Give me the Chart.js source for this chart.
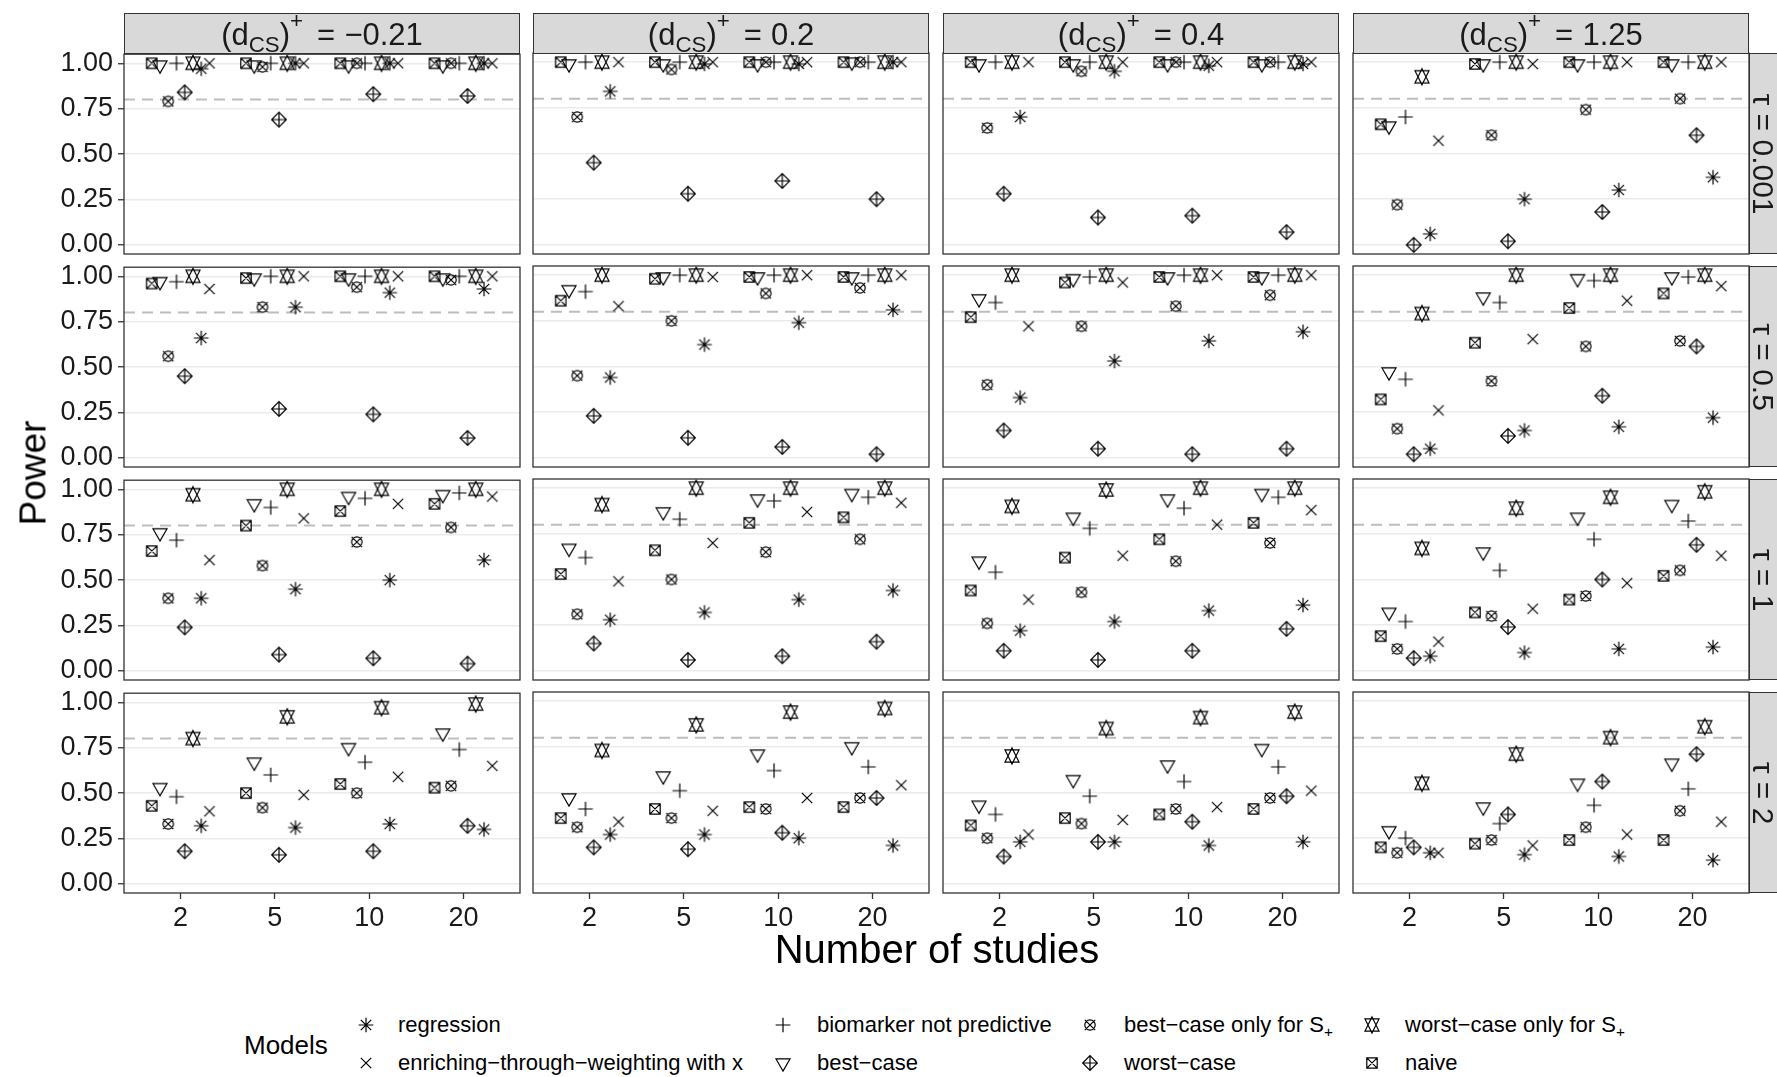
<!DOCTYPE html>
<html>
<head>
<meta charset="utf-8">
<script src="https://cdn.jsdelivr.net/npm/chart.js@4.4.1/dist/chart.umd.min.js"></script>
<style>
  html, body { margin: 0; padding: 0; background: #fff; }
  body { width: 1777px; height: 1077px; position: relative; overflow: hidden;
         font-family: "Liberation Sans", Arial, Helvetica, sans-serif; color: #1a1a1a; }
  .box { position: absolute; }
  .strip { position: absolute; background: #d9d9d9; border: 1.3px solid #333; box-sizing: border-box; }
  .stext { position: absolute; left: 50%; top: 50%; transform: translate(-50%, -50%);
           font-size: 31px; color: #1a1a1a; white-space: nowrap; line-height: 1; }
  .stext sub { font-size: 72%; vertical-align: -0.32em; line-height: 0; }
  .stext sup { font-size: 72%; vertical-align: 0.72em; line-height: 0; }
  .stext .eq { margin: 0 0.3em 0 0.45em; }
  .rtext { position: absolute; font-size: 30px; color: #1a1a1a; white-space: nowrap; line-height: 1; }
  .title { position: absolute; color: #000; white-space: nowrap; line-height: 1; }
  .legtitle { position: absolute; font-size: 26px; color: #000; white-space: nowrap; }
  .leglabel { position: absolute; font-size: 22px; color: #000; white-space: nowrap; line-height: 26px; }
  .leglabel sub { font-size: 70%; vertical-align: -0.3em; line-height: 0; }
  .legsym { position: absolute; }
</style>
</head>
<body>
<script>
// ---- facet levels and axis labels ----
const studies = ['2', '5', '10', '20'];
const dcsLabels = ['\u22120.21', '0.2', '0.4', '1.25'];
const tauLabels = ['0.001', '0.5', '1', '2'];
const yTicks = [0, 0.25, 0.5, 0.75, 1];
const targetPower = 0.8;

// ---- power per model: [τ row][d_CS column][number of studies] ----
const naive = [
  [[1.00, 1.00, 1.00, 1.00], [1.00, 1.00, 1.00, 1.00], [1.00, 1.00, 1.00, 1.00], [0.66, 0.99, 1.00, 1.00]],
  [[0.96, 0.99, 1.00, 1.00], [0.86, 0.98, 0.99, 0.99], [0.77, 0.96, 0.99, 0.99], [0.32, 0.63, 0.82, 0.90]],
  [[0.66, 0.80, 0.88, 0.92], [0.53, 0.66, 0.81, 0.84], [0.44, 0.62, 0.72, 0.81], [0.19, 0.32, 0.39, 0.52]],
  [[0.43, 0.50, 0.55, 0.53], [0.36, 0.41, 0.42, 0.42], [0.32, 0.36, 0.38, 0.41], [0.20, 0.22, 0.24, 0.24]]
];
const bestCase = [
  [[0.99, 0.99, 0.99, 0.99], [0.99, 0.99, 0.99, 1.00], [0.99, 0.99, 0.99, 0.99], [0.65, 0.99, 0.99, 0.99]],
  [[0.97, 0.99, 0.99, 0.99], [0.92, 0.99, 0.99, 0.99], [0.87, 0.98, 0.99, 0.99], [0.47, 0.88, 0.98, 0.99]],
  [[0.76, 0.92, 0.96, 0.97], [0.67, 0.87, 0.94, 0.97], [0.60, 0.84, 0.94, 0.97], [0.32, 0.65, 0.84, 0.91]],
  [[0.53, 0.67, 0.75, 0.83], [0.47, 0.59, 0.71, 0.75], [0.43, 0.57, 0.65, 0.74], [0.29, 0.42, 0.55, 0.66]]
];
const bestCaseOnlySplus = [
  [[0.79, 0.98, 1.00, 1.00], [0.70, 0.96, 1.00, 1.00], [0.64, 0.95, 1.00, 1.00], [0.22, 0.60, 0.74, 0.80]],
  [[0.56, 0.83, 0.94, 0.98], [0.45, 0.75, 0.90, 0.93], [0.40, 0.72, 0.83, 0.89], [0.16, 0.42, 0.61, 0.64]],
  [[0.40, 0.58, 0.71, 0.79], [0.31, 0.50, 0.65, 0.72], [0.26, 0.43, 0.60, 0.70], [0.12, 0.30, 0.41, 0.55]],
  [[0.33, 0.42, 0.50, 0.54], [0.31, 0.36, 0.41, 0.47], [0.25, 0.33, 0.41, 0.47], [0.17, 0.24, 0.31, 0.40]]
];
const notPredictive = [
  [[1.00, 1.00, 1.00, 1.00], [1.00, 1.00, 1.00, 1.00], [1.00, 1.00, 1.00, 1.00], [0.70, 1.00, 1.00, 1.00]],
  [[0.97, 1.00, 1.00, 1.00], [0.91, 1.00, 1.00, 1.00], [0.85, 0.99, 1.00, 1.00], [0.43, 0.85, 0.97, 0.99]],
  [[0.72, 0.90, 0.95, 0.98], [0.62, 0.83, 0.93, 0.95], [0.54, 0.78, 0.89, 0.95], [0.27, 0.55, 0.72, 0.82]],
  [[0.48, 0.60, 0.67, 0.74], [0.41, 0.51, 0.62, 0.64], [0.38, 0.48, 0.56, 0.64], [0.25, 0.33, 0.43, 0.52]]
];
const worstCase = [
  [[0.84, 0.69, 0.83, 0.82], [0.45, 0.28, 0.35, 0.25], [0.28, 0.15, 0.16, 0.07], [0.00, 0.02, 0.18, 0.60]],
  [[0.45, 0.27, 0.24, 0.11], [0.23, 0.11, 0.06, 0.02], [0.15, 0.05, 0.02, 0.05], [0.02, 0.12, 0.34, 0.61]],
  [[0.24, 0.09, 0.07, 0.04], [0.15, 0.06, 0.08, 0.16], [0.11, 0.06, 0.11, 0.23], [0.07, 0.24, 0.50, 0.69]],
  [[0.18, 0.16, 0.18, 0.32], [0.20, 0.19, 0.28, 0.47], [0.15, 0.23, 0.34, 0.48], [0.20, 0.38, 0.56, 0.71]]
];
const worstCaseOnlySplus = [
  [[1.00, 1.00, 1.00, 1.00], [1.00, 1.00, 1.00, 1.00], [1.00, 1.00, 1.00, 1.00], [0.92, 1.00, 1.00, 1.00]],
  [[1.00, 1.00, 1.00, 1.00], [1.00, 1.00, 1.00, 1.00], [1.00, 1.00, 1.00, 1.00], [0.79, 1.00, 1.00, 1.00]],
  [[0.97, 1.00, 1.00, 1.00], [0.91, 1.00, 1.00, 1.00], [0.90, 0.99, 1.00, 1.00], [0.67, 0.89, 0.95, 0.98]],
  [[0.80, 0.92, 0.97, 0.99], [0.73, 0.87, 0.94, 0.96], [0.70, 0.85, 0.91, 0.94], [0.55, 0.71, 0.80, 0.86]]
];
const regression = [
  [[0.97, 1.00, 1.00, 1.00], [0.84, 0.99, 0.99, 1.00], [0.70, 0.95, 0.98, 0.99], [0.06, 0.25, 0.30, 0.37]],
  [[0.66, 0.83, 0.91, 0.93], [0.44, 0.62, 0.74, 0.81], [0.33, 0.53, 0.64, 0.69], [0.05, 0.15, 0.17, 0.22]],
  [[0.40, 0.45, 0.50, 0.61], [0.28, 0.32, 0.39, 0.44], [0.22, 0.27, 0.33, 0.36], [0.08, 0.10, 0.12, 0.13]],
  [[0.32, 0.31, 0.33, 0.30], [0.27, 0.27, 0.25, 0.21], [0.23, 0.23, 0.21, 0.23], [0.17, 0.16, 0.15, 0.13]]
];
const enrichingWeighting = [
  [[1.00, 1.00, 1.00, 1.00], [1.00, 1.00, 1.00, 1.00], [1.00, 1.00, 1.00, 1.00], [0.57, 0.99, 1.00, 1.00]],
  [[0.93, 1.00, 1.00, 1.00], [0.83, 0.99, 1.00, 1.00], [0.72, 0.96, 1.00, 1.00], [0.26, 0.65, 0.86, 0.94]],
  [[0.61, 0.84, 0.92, 0.96], [0.49, 0.70, 0.87, 0.92], [0.39, 0.63, 0.80, 0.88], [0.16, 0.34, 0.48, 0.63]],
  [[0.40, 0.49, 0.59, 0.65], [0.34, 0.40, 0.47, 0.54], [0.27, 0.35, 0.42, 0.51], [0.17, 0.21, 0.27, 0.34]]
];

// models in dodge order (left to right inside each group of studies)
const models = [
  { key: 'naive',      shape: 'squareCross',     data: naive },
  { key: 'best',       shape: 'triangleDown',    data: bestCase },
  { key: 'bestOnly',   shape: 'circleCross',     data: bestCaseOnlySplus },
  { key: 'notPred',    shape: 'plus',            data: notPredictive },
  { key: 'worst',      shape: 'diamondPlus',     data: worstCase },
  { key: 'worstOnly',  shape: 'trianglesUpDown', data: worstCaseOnlySplus },
  { key: 'regression', shape: 'asterisk',        data: regression },
  { key: 'enriching',  shape: 'cross',           data: enrichingWeighting }
];

// legend entries, column by column
const legendItems = [
  { key: 'regression', html: 'regression' },
  { key: 'enriching',  html: 'enriching\u2212through\u2212weighting with x' },
  { key: 'notPred',    html: 'biomarker not predictive' },
  { key: 'best',       html: 'best\u2212case' },
  { key: 'bestOnly',   html: 'best\u2212case only for S<sub>+</sub>' },
  { key: 'worst',      html: 'worst\u2212case' },
  { key: 'worstOnly',  html: 'worst\u2212case only for S<sub>+</sub>' },
  { key: 'naive',      html: 'naive' }
];

// ---- layout ----
const PANEL_W = 396, PANEL_H = 201;
const colLeft = [124, 533, 943, 1353];
const rowTop = [53, 266, 479, 692];
const PAD_L = 110, PAD_T = 20, PAD_R = 10, PAD_B = 60;
const AX_W = 80, AX_H = 44;
const DODGE = 0.7;
const FONT = '"Liberation Sans", Arial, Helvetica, sans-serif';

// ---- plotting symbols (R pch 3,4,6,7,8,9,11,13) ----
const SYM_R = 5.2, SYM_LW = 1.2;
const TRC0 = Math.sqrt(4 * Math.PI / (3 * Math.sqrt(3)));
const TRC1 = TRC0 * Math.sqrt(3) / 2;
const TRC2 = TRC0 / 2;

function drawSymbol(ctx, kind, cx, cy) {
  const R = SYM_R, s2 = Math.SQRT2 * R;
  ctx.save();
  ctx.translate(cx, cy);
  ctx.strokeStyle = '#000';
  ctx.lineWidth = SYM_LW;
  ctx.lineJoin = 'miter';
  ctx.beginPath();
  const seg = (x1, y1, x2, y2) => { ctx.moveTo(x1, y1); ctx.lineTo(x2, y2); };
  switch (kind) {
    case 'asterisk':
      seg(-R, -R, R, R); seg(-R, R, R, -R); seg(-s2, 0, s2, 0); seg(0, -s2, 0, s2); break;
    case 'cross':
      seg(-R, -R, R, R); seg(-R, R, R, -R); break;
    case 'plus':
      seg(-s2, 0, s2, 0); seg(0, -s2, 0, s2); break;
    case 'triangleDown': {
      const a = TRC0 * R, b = TRC2 * R, w = TRC1 * R;
      ctx.moveTo(0, a); ctx.lineTo(w, -b); ctx.lineTo(-w, -b); ctx.closePath(); break;
    }
    case 'diamondPlus':
      ctx.moveTo(0, -s2); ctx.lineTo(s2, 0); ctx.lineTo(0, s2); ctx.lineTo(-s2, 0); ctx.closePath();
      seg(-s2, 0, s2, 0); seg(0, -s2, 0, s2); break;
    case 'trianglesUpDown': {
      const a = TRC0 * R, b = 0.5 * (TRC2 + TRC0) * R, w = TRC1 * R;
      ctx.moveTo(0, a); ctx.lineTo(w, -b); ctx.lineTo(-w, -b); ctx.closePath();
      ctx.moveTo(0, -a); ctx.lineTo(w, b); ctx.lineTo(-w, b); ctx.closePath(); break;
    }
    case 'circleCross':
      ctx.moveTo(R, 0); ctx.arc(0, 0, R, 0, Math.PI * 2);
      seg(-R, -R, R, R); seg(-R, R, R, -R); break;
    case 'squareCross':
      ctx.rect(-R, -R, 2 * R, 2 * R);
      seg(-R, -R, R, R); seg(-R, R, R, -R); break;
  }
  ctx.stroke();
  ctx.restore();
}

function symbolCanvas(kind) {
  const c = document.createElement('canvas');
  c.width = 24; c.height = 24;
  drawSymbol(c.getContext('2d'), kind, 12, 12);
  return c;
}
const symbols = {};
models.forEach(m => { symbols[m.key] = symbolCanvas(m.shape); });

// ---- panel frame and reference line ----
const panelFrame = {
  id: 'panelFrame',
  beforeDatasetsDraw(chart) {
    const { ctx, chartArea: a, scales: { y } } = chart;
    const yy = y.getPixelForValue(targetPower);
    ctx.save();
    ctx.strokeStyle = '#bdbdbd';
    ctx.lineWidth = 2;
    ctx.setLineDash([11, 7]);
    ctx.beginPath();
    ctx.moveTo(a.left, yy); ctx.lineTo(a.right, yy);
    ctx.stroke();
    ctx.restore();
  },
  afterDraw(chart) {
    const { ctx, chartArea: a } = chart;
    ctx.save();
    ctx.strokeStyle = '#333333';
    ctx.lineWidth = 1.3;
    ctx.strokeRect(a.left, a.top, a.right - a.left, a.bottom - a.top);
    ctx.restore();
  }
};

Chart.defaults.font.family = FONT;

function makePanel(r, c) {
  const isLeft = c === 0, isBottom = r === rowTop.length - 1;
  const wrap = document.createElement('div');
  wrap.className = 'box';
  wrap.style.left = (colLeft[c] - PAD_L) + 'px';
  wrap.style.top = (rowTop[r] - PAD_T) + 'px';
  const cv = document.createElement('canvas');
  cv.width = PANEL_W + PAD_L + PAD_R;
  cv.height = PANEL_H + PAD_T + PAD_B;
  wrap.appendChild(cv);
  document.body.appendChild(wrap);

  const datasets = models.map((m, i) => ({
    label: m.key,
    data: studies.map((s, k) => ({
      x: k + 1 + (i - (models.length - 1) / 2) * DODGE / models.length,
      y: m.data[r][c][k]
    })),
    pointStyle: symbols[m.key],
    pointRadius: 8,
    showLine: false,
    clip: false
  }));

  new Chart(cv, {
    type: 'scatter',
    data: { datasets },
    options: {
      responsive: false,
      animation: false,
      devicePixelRatio: 1,
      layout: {
        padding: {
          left: isLeft ? PAD_L - AX_W : PAD_L,
          top: PAD_T,
          right: PAD_R,
          bottom: isBottom ? PAD_B - AX_H : PAD_B
        }
      },
      plugins: { legend: { display: false }, tooltip: { enabled: false } },
      scales: {
        x: {
          type: 'linear', min: 0.4, max: 4.6,
          afterBuildTicks: s => { s.ticks = studies.map((_, k) => ({ value: k + 1 })); },
          afterFit: s => { s.height = isBottom ? AX_H : 0; },
          grid: { display: isBottom, drawOnChartArea: false, drawTicks: true, tickLength: 6,
                  tickColor: '#333333', tickWidth: 1.3 },
          border: { display: false },
          ticks: { display: isBottom, autoSkip: false, maxRotation: 0, padding: 3,
                   color: '#1a1a1a', font: { size: 27 },
                   callback: (v, i) => studies[i] }
        },
        y: {
          type: 'linear', min: -0.05, max: 1.05,
          afterBuildTicks: s => { s.ticks = yTicks.map(v => ({ value: v })); },
          afterFit: s => { s.width = isLeft ? AX_W : 0; },
          grid: { color: '#ebebeb', lineWidth: 1.5, drawTicks: isLeft, tickLength: 6,
                  tickColor: '#333333', tickWidth: 1.3 },
          border: { display: false },
          ticks: { display: isLeft, padding: 5, color: '#1a1a1a', font: { size: 27 },
                   callback: v => Number(v).toFixed(2) }
        }
      }
    },
    plugins: [panelFrame]
  });
}

for (let r = 0; r < rowTop.length; r++)
  for (let c = 0; c < colLeft.length; c++) makePanel(r, c);

// ---- strips ----
dcsLabels.forEach((lab, c) => {
  const d = document.createElement('div');
  d.className = 'strip';
  d.style.left = colLeft[c] + 'px';
  d.style.top = '13px';
  d.style.width = PANEL_W + 'px';
  d.style.height = (rowTop[0] - 13 + 1) + 'px';
  const t = document.createElement('span');
  t.className = 'stext';
  t.innerHTML = '(d<sub>CS</sub>)<sup>+</sup><span class="eq">=</span>' + lab;
  d.appendChild(t);
  document.body.appendChild(d);
});
tauLabels.forEach((lab, r) => {
  const d = document.createElement('div');
  d.className = 'strip';
  d.style.left = (colLeft[3] + PANEL_W) + 'px';
  d.style.top = rowTop[r] + 'px';
  d.style.width = '32px';
  d.style.height = PANEL_H + 'px';
  document.body.appendChild(d);
  const t = document.createElement('div');
  t.className = 'rtext';
  t.textContent = '\u03C4 = ' + lab;
  t.style.left = '1763px';
  t.style.top = (rowTop[r] + PANEL_H / 2) + 'px';
  t.style.transform = 'translate(-50%, -50%) rotate(90deg)';
  document.body.appendChild(t);
});

// ---- axis titles ----
const xt = document.createElement('div');
xt.className = 'title';
xt.textContent = 'Number of studies';
xt.style.fontSize = '40px';
xt.style.left = '937px'; xt.style.top = '949px';
xt.style.transform = 'translate(-50%, -50%)';
document.body.appendChild(xt);

const yt = document.createElement('div');
yt.className = 'title';
yt.textContent = 'Power';
yt.style.fontSize = '37px';
yt.style.left = '33px'; yt.style.top = '473px';
yt.style.transform = 'translate(-50%, -50%) rotate(-90deg)';
document.body.appendChild(yt);

// ---- legend ----
const lt = document.createElement('div');
lt.className = 'legtitle';
lt.textContent = 'Models';
lt.style.left = '244px'; lt.style.top = '1045px';
lt.style.transform = 'translateY(-50%)';
document.body.appendChild(lt);

const legSymX = [366, 783, 1090, 1372];
const legLabX = [398, 817, 1124, 1405];
const legRowY = [1025, 1063];
legendItems.forEach((it, i) => {
  const col = Math.floor(i / 2), row = i % 2;
  const s = symbolCanvas(models.find(m => m.key === it.key).shape);
  s.className = 'legsym';
  s.style.left = (legSymX[col] - 12) + 'px';
  s.style.top = (legRowY[row] - 12) + 'px';
  document.body.appendChild(s);
  const l = document.createElement('div');
  l.className = 'leglabel';
  l.innerHTML = it.html;
  l.style.left = legLabX[col] + 'px';
  l.style.top = (legRowY[row] - 13) + 'px';
  document.body.appendChild(l);
});
</script>
</body>
</html>
